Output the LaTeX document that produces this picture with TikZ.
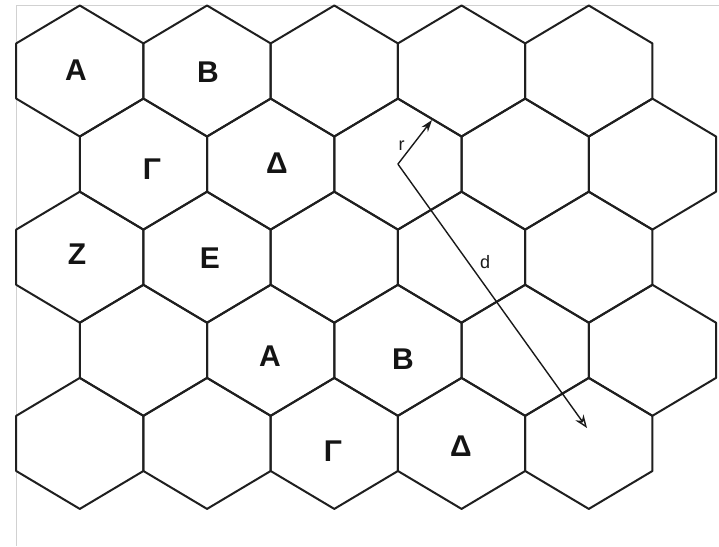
\documentclass[tikz,border=0pt]{standalone}
\usepackage{fontspec}
\setmainfont{Liberation Sans}
\usetikzlibrary{arrows.meta}
\begin{document}
\begin{tikzpicture}[x=1pt,y=-1pt,
  hexline/.style={line width=2pt, draw=black!88, line join=round},
  framel/.style={line width=1pt, draw=black!18},
  cell/.style={font=\bfseries\fontsize{30}{30}\selectfont, inner sep=0pt, text=black!92},
  small/.style={font=\fontsize{18}{18}\selectfont, inner sep=0pt, text=black!90},
  arr/.style={line width=1.4pt, draw=black!90}]
\useasboundingbox (0,0) rectangle (719,546);
\fill[white] (0,0) rectangle (719,546);
\draw[framel] (16.2,5.3) -- (719,5.3);
\draw[framel] (16.2,5.3) -- (16.2,546);
\foreach \r in {0,...,4}{
  \foreach \c in {0,...,4}{
    \pgfmathsetmacro{\hx}{79.8+127.25*\c+63.6*mod(\r,2)}
    \pgfmathsetmacro{\hy}{71+93.1*\r}
    \coordinate (h\r\c) at (\hx,\hy);
    \draw[hexline, shift={(h\r\c)}] (-63.6,-27.6) -- (0,-65.5) -- (63.6,-27.6)
      -- (63.6,27.6) -- (0,65.5) -- (-63.6,27.6) -- cycle;
  }
}
% labels
\node[cell] (la1) at (76,70) {Α};
\node[cell] (lb1) at (208,72) {Β};
\node[cell] (lg1) at (152,169) {Γ};
\node[cell] (ld1) at (277,163) {Δ};
\node[cell] (lz) at (77,254) {Ζ};
\node[cell] (le) at (210,258) {Ε};
\node[cell] (la2) at (270,356) {Α};
\node[cell] (lb2) at (403,359) {Β};
\node[cell] (lg2) at (333,451) {Γ};
\node[cell] (ld2) at (461,446) {Δ};
% arrows
\coordinate (rend) at (432,120);
\coordinate (dend) at (587,428);
\draw[arr, -{Stealth[length=12pt,width=8pt]}] (h12) -- (rend);
\draw[arr, -{Stealth[length=13pt,width=10pt,open]}] (h12) -- (dend);
\node[small] (rl) at (401.5,146) {r};
\node[small] (dl) at (485,262) {d};
\end{tikzpicture}
\end{document}
